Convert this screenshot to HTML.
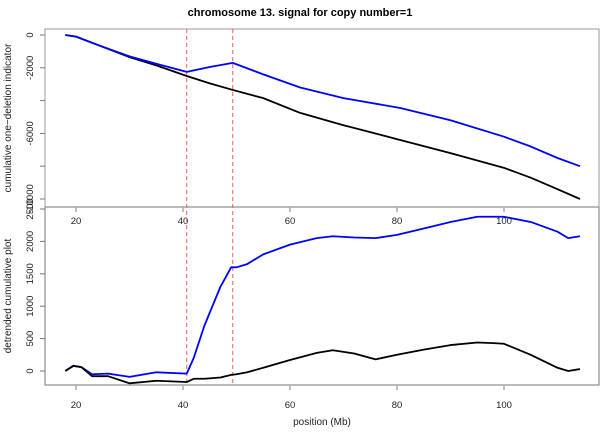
<!DOCTYPE html>
<html><head><meta charset="utf-8"><style>
body{margin:0;background:#fff}
svg{display:block;font-family:"Liberation Sans",sans-serif}
</style></head><body>
<svg id="c" width="600" height="432"></svg>
<script>
const topMb=[18,20,24,30,35,40.7,45,49.3,55,61.9,70,80.6,90,100,105,110,114.2];
const topBlack=[0,-100,-600,-1350,-1850,-2500,-2950,-3350,-3850,-4750,-5500,-6400,-7200,-8100,-8700,-9400,-10000];
const topBlue=[0,-100,-600,-1300,-1750,-2250,-1950,-1700,-2400,-3200,-3850,-4450,-5200,-6200,-6800,-7500,-8000];
const botMb=[18,19.5,21,23,26,30,35,40.7,42,44,47,49,50,52,55,60,65,68,72,76,80,85,90,95,98,100,105,110,112,114.2];
const botBlue=[0,80,60,-50,-40,-90,-20,-40,200,700,1300,1600,1600,1650,1800,1950,2050,2080,2060,2050,2100,2200,2300,2380,2380,2380,2300,2150,2050,2080];
const botBlack=[0,80,60,-80,-80,-190,-150,-170,-120,-120,-100,-60,-50,-20,50,170,280,320,270,180,250,330,400,440,430,420,250,50,0,30];
const xTicks=[20,40,60,80,100];
const topTicks=[0,-2000,-4000,-6000,-8000,-10000];
const topTickLabels=["0","-2000","","-6000","","-10000"];
const botTicks=[0,500,1000,1500,2000,2500];
const vlines=[40.7,49.3];

const NS="http://www.w3.org/2000/svg";
const svg=document.getElementById('c');
function el(t,a,p){const e=document.createElementNS(NS,t);for(const k in a)e.setAttribute(k,a[k]);(p||svg).appendChild(e);return e;}
const X=m=>76+(m-20)*5.35;
const YT=v=>35-v/2000*32.8;
const YB=v=>371-v/500*32.4;

let t=el('text',{x:300,y:16,'text-anchor':'middle','font-size':11,'font-weight':'bold'});t.textContent='chromosome 13. signal for copy number=1';



let b=el('rect',{x:45,y:29,width:554,height:178,fill:'none',stroke:'#999','stroke-width':1});


b=el('rect',{x:45,y:207,width:554,height:178,fill:'none',stroke:'#777','stroke-width':1});



xTicks.forEach(v=>{
  [[207,224],[385,408]].forEach(([y0,ly])=>{
    let l=el('line',{x1:X(v),x2:X(v),y1:y0,y2:y0+5,stroke:'#aaa','stroke-width':1.5});
    
    
    let tx=el('text',{x:X(v),y:ly,'text-anchor':'middle','font-size':9.5,fill:'#222'});tx.textContent=v;
    
    
  });
});
topTicks.forEach((v,i)=>{
  let l=el('line',{x1:40,x2:45,y1:YT(v),y2:YT(v),stroke:'#777'});
  
  
  let tx=el('text',{x:0,y:0,'text-anchor':'middle','font-size':9.5,fill:'#222',transform:`translate(33,${YT(v)}) rotate(-90)`});tx.textContent=topTickLabels[i];
  
  
});
botTicks.forEach(v=>{
  let l=el('line',{x1:40,x2:45,y1:YB(v),y2:YB(v),stroke:'#777'});
  
  
  let tx=el('text',{x:0,y:0,'text-anchor':'middle','font-size':9.5,fill:'#222',transform:`translate(33,${YB(v)}) rotate(-90)`});tx.textContent=v;
  
  
});
t=el('text',{x:0,y:0,'text-anchor':'middle','font-size':10,fill:'#222',transform:'translate(11,118) rotate(-90)'});t.textContent='cumulative one\u2212deletion indicator';


t=el('text',{x:0,y:0,'text-anchor':'middle','font-size':10,fill:'#222',transform:'translate(11,296) rotate(-90)'});t.textContent='detrended cumulative plot';


t=el('text',{x:322,y:425,'text-anchor':'middle','font-size':10,fill:'#222'});t.textContent='position (Mb)';



vlines.forEach(v=>{
  let l=el('line',{x1:X(v),x2:X(v),y1:29,y2:385,stroke:'#f55','stroke-width':1,'stroke-dasharray':'4,3'});
  
  
});
function line(xs,ys,Y,col,name){
  const p=el('polyline',{points:xs.map((m,i)=>X(m)+','+Y(ys[i])).join(' '),fill:'none',stroke:col,'stroke-width':1.8,'stroke-linejoin':'round'});
  
  
}
line(topMb,topBlack,YT,'#000','top-black-series');
line(topMb,topBlue,YT,'#00f','top-blue-series');
line(botMb,botBlue,YB,'#00f','bottom-blue-series');
line(botMb,botBlack,YB,'#000','bottom-black-series');
</script>
</body></html>
